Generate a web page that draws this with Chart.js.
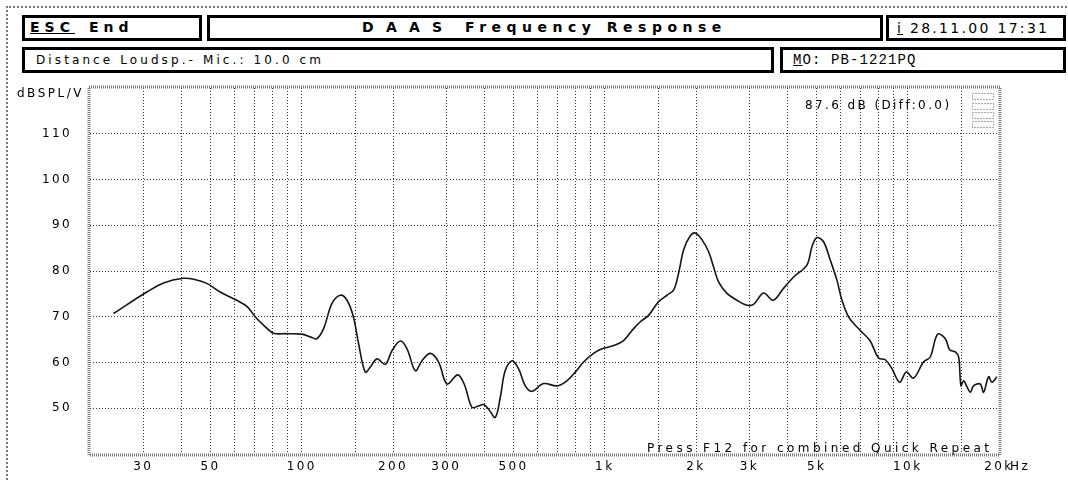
<!DOCTYPE html>
<html lang="en">
<head>
    <meta charset="UTF-8">
    <title>DAAS Frequency Response</title>
    <script src="https://cdn.jsdelivr.net/npm/chart.js"></script>
    <style>
        body {
            margin: 0;
            width: 1068px;
            height: 480px;
            position: relative;
            overflow: hidden;
            background: #fff;
            font-family: "DejaVu Sans", sans-serif;
            color: #000;
        }
        .frame {
            position: absolute;
            left: 6px;
            top: 6px;
            width: 1070px;
            height: 480px;
            border-top: 2px dotted #777;
            border-left: 2px dotted #777;
        }
        .box {
            position: absolute;
            border: 3px solid #000;
            box-sizing: border-box;
            height: 26px;
        }
        .t {
            position: absolute;
            white-space: pre;
            line-height: 14px;
        }
        .bold { font-weight: bold; font-size: 14px; letter-spacing: 5px; }
        .u { text-decoration: underline; }
        #chart-wrap {
            position: absolute;
            left: 0;
            top: 0;
            width: 1068px;
            height: 480px;
        }
    </style>
</head>
<body>
    <div class="frame"></div>

    <!-- header row 1 -->
    <div class="box" style="left:22px;top:15px;width:180px;"></div>
    <div class="box" style="left:207px;top:15px;width:676px;"></div>
    <div class="box" style="left:886px;top:15px;width:180px;"></div>
    <!-- header row 2 -->
    <div class="box" style="left:22px;top:47px;width:752px;"></div>
    <div class="box" style="left:780px;top:47px;width:286px;"></div>

    <div class="t bold" style="left:30px;top:20px;"><span class="u">ESC</span></div>
    <div class="t bold" style="left:89px;top:20px;">End</div>
    <div class="t bold" style="left:362px;top:20px;letter-spacing:3.7px;">D A A S</div>
    <div class="t bold" style="left:465px;top:20px;letter-spacing:5.5px;">Frequency Response</div>
    <div class="t" style="left:897px;top:21px;font-size:14px;letter-spacing:2.3px;"><span class="u">i</span> 28.11.00 17:31</div>
    <div class="t" style="left:36px;top:53px;font-size:12px;letter-spacing:3.1px;">Distance Loudsp.- Mic.: 10.0 cm</div>
    <div class="t" style="left:793px;top:53px;font-family:'Liberation Mono',monospace;font-size:14px;letter-spacing:1.1px;"><span class="u">M</span>O: PB-1221PQ</div>

    <div id="chart-wrap"><canvas id="c"></canvas></div>

    <div class="t" style="left:17px;top:86px;font-size:12px;letter-spacing:2.5px;">dBSPL/V</div>
    <div class="t" style="left:805px;top:98px;font-size:12px;letter-spacing:2.4px;">87.6 dB (Diff:0.0)</div>
    <div class="t" style="left:647px;top:441px;font-size:12px;letter-spacing:3.45px;">Press F12 for combined Quick Repeat</div>
    <div class="t" style="left:1010px;top:459px;font-size:12px;letter-spacing:2.4px;">Hz</div>

    <script>
        // measured curve (Hz, dB SPL)
        const freqs = [23.9, 30.8, 35, 40.7, 44, 48.6, 53.8, 61, 66, 71, 75.8, 80.7, 88.9, 100, 106.7, 112, 118, 125.8, 134, 141,
            148, 154, 162, 168.4, 177, 188.6, 198.5, 211.5, 222.5, 237, 249.3, 265.5, 282.9, 301.5, 327, 344, 364.5, 383, 398, 413.6,
            435, 452, 469, 494, 519.5, 546.6, 575, 628, 695, 750, 799, 851, 918, 979, 1070, 1153, 1230, 1310, 1395, 1505,
            1604, 1687, 1752, 1820, 1915, 1990, 2094, 2201, 2286, 2374, 2530, 2730, 2946, 3097, 3343, 3590, 3890, 4200, 4645, 4827,
            5015, 5272, 5548, 5836, 6065, 6400, 6970, 7500, 8010, 8430, 8870, 9400, 9890, 10450, 11270, 11860, 12540, 13300, 13740, 14350,
            14720, 14980, 15280, 15680, 16080, 16480, 17340, 17790, 18480, 18960, 19700];
        const dbspl = [70.7, 75.4, 77.4, 78.4, 78.2, 77.3, 75.4, 73.6, 72.2, 69.6, 67.8, 66.4, 66.3, 66.2, 65.6, 65.2, 67.4, 72.9, 74.7, 73.6,
            70.0, 64.1, 57.9, 59.0, 60.8, 59.6, 62.6, 64.7, 63.0, 58.2, 60.4, 62.0, 60.1, 55.3, 57.3, 55.2, 50.2, 50.5, 50.8, 49.8,
            48.0, 52.4, 58.2, 60.4, 58.6, 54.9, 53.7, 55.4, 54.9, 56.0, 57.9, 60.1, 62.0, 63.0, 63.7, 64.8, 67.0, 68.9, 70.3, 73.3,
            74.7, 75.8, 79.5, 84.6, 87.7, 88.3, 86.8, 84.2, 80.9, 77.6, 75.1, 73.6, 72.5, 72.7, 75.2, 73.6, 76.2, 78.7, 81.3, 85.3,
            87.3, 86.4, 82.4, 78.0, 73.6, 69.8, 67.0, 64.8, 61.0, 60.6, 58.6, 55.7, 57.9, 56.6, 60.1, 61.2, 66.2, 65.2, 62.8, 62.3,
            61.2, 54.9, 56.0, 54.7, 53.5, 54.9, 55.3, 53.5, 56.9, 55.7, 56.9];

        // grid lines and tick labels
        const xGrid = [20, 30, 40, 50, 60, 70, 80, 90, 100, 150, 200, 300, 400, 500, 600, 700, 800, 900,
            1000, 1500, 2000, 3000, 4000, 5000, 6000, 7000, 8000, 9000, 10000, 15000, 20000];
        const xLabels = {30: '30', 50: '50', 100: '100', 200: '200', 300: '300', 500: '500',
            1000: '1k', 2000: '2k', 3000: '3k', 5000: '5k', 10000: '10k', 20000: '20k'};
        const yLabels = [50, 60, 70, 80, 90, 100, 110];

        Chart.defaults.font.family = 'DejaVu Sans';
        Chart.defaults.font.size = 12;
        Chart.defaults.color = '#000';

        const dotColor = '#333';

        // wide letter spacing like the old DOS font + plot frame + little icon
        const daasPlugin = {
            id: 'daas',
            beforeDraw(chart) {
                chart.ctx.letterSpacing = '2.4px';
            },
            afterDraw(chart) {
                const ctx = chart.ctx;
                const a = chart.chartArea;
                ctx.save();
                ctx.strokeStyle = '#777';
                ctx.lineWidth = 3;
                ctx.setLineDash([1, 1]);
                ctx.strokeRect(a.left - 1, a.top - 1, a.right - a.left + 2, a.bottom - a.top + 2);

                // stacked dotted boxes in the top right corner
                ctx.strokeStyle = '#555';
                ctx.lineWidth = 1;
                ctx.setLineDash([1, 2]);
                const bx = a.right - 27;
                [93, 103, 112, 121].forEach(y => {
                    ctx.strokeRect(bx + 0.5, y + 0.5, 21, 6);
                });
                ctx.restore();
            }
        };

        new Chart(document.getElementById('c'), {
            type: 'line',
            data: {
                datasets: [{
                    data: freqs.map((f, i) => ({ x: f, y: dbspl[i] })),
                    borderColor: '#151515',
                    borderWidth: 1.6,
                    pointRadius: 0,
                    tension: 0.35,
                    fill: false
                }]
            },
            options: {
                responsive: true,
                maintainAspectRatio: false,
                animation: false,
                layout: { padding: { left: 0, right: 69, top: 88, bottom: 0 } },
                plugins: { legend: { display: false }, tooltip: { enabled: false } },
                scales: {
                    x: {
                        type: 'logarithmic',
                        min: 20,
                        max: 20000,
                        afterFit(s) { s.height = 26; },
                        afterBuildTicks(s) { s.ticks = xGrid.map(v => ({ value: v })); },
                        border: { display: false, dash: [1, 2] },
                        grid: {
                            drawTicks: false,
                            borderDash: [1, 2],
                            color: c => (c.tick && (c.tick.value === 20 || c.tick.value === 20000)) ? 'transparent' : dotColor,
                            lineWidth: 1
                        },
                        ticks: {
                            autoSkip: false,
                            maxRotation: 0,
                            padding: 6,
                            callback: v => xLabels[v] || ''
                        }
                    },
                    y: {
                        min: 40,
                        max: 120,
                        afterFit(s) { s.width = 90; },
                        border: { display: false, dash: [1, 2] },
                        grid: {
                            drawTicks: false,
                            borderDash: [1, 2],
                            color: c => (c.tick && (c.tick.value === 40 || c.tick.value === 120)) ? 'transparent' : dotColor,
                            lineWidth: 1
                        },
                        ticks: {
                            stepSize: 10,
                            padding: 18,
                            callback: v => yLabels.includes(v) ? String(v) : ''
                        }
                    }
                }
            },
            plugins: [daasPlugin]
        });
    </script>
</body>
</html>
